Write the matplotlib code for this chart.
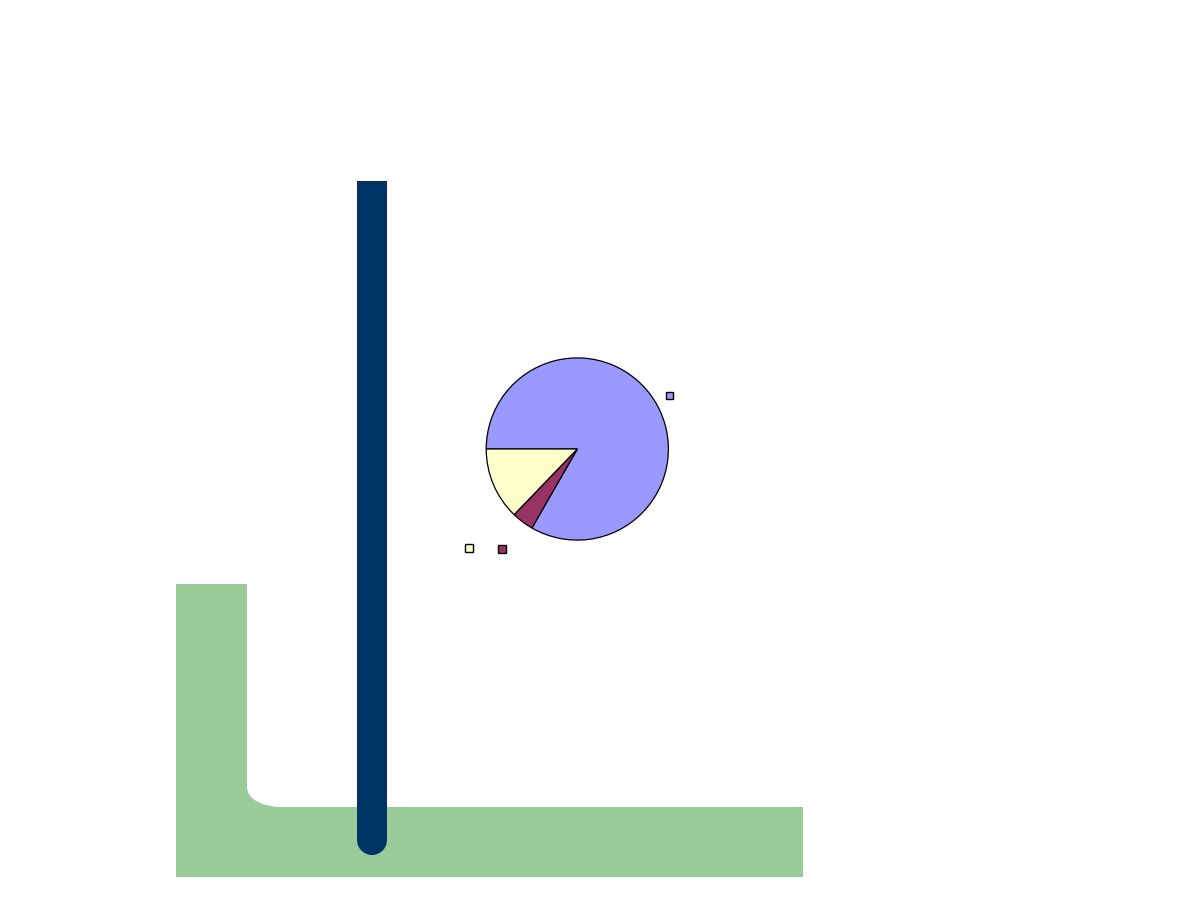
import matplotlib
matplotlib.use("Agg")
import matplotlib.pyplot as plt
from matplotlib.patches import Rectangle, Circle, PathPatch
from matplotlib.path import Path

# pie data (shares, legend has no text)
labels = ["", "", ""]
shares = [83.3, 3.9, 12.8]
colors = ["#9999FF", "#993366", "#FFFFCC"]

# where the three legend keys sit (px, figure coords from top-left)
key_pos = [(669.5, 395.5), (502, 549), (469, 548)]

W, H = 1188, 918
fig = plt.figure(figsize=(W / 100, H / 100), dpi=100)
fig.patch.set_facecolor("white")

# background layer in pixel coordinates
bg = fig.add_axes([0, 0, 1, 1])
bg.set_xlim(0, W)
bg.set_ylim(H, 0)
bg.axis("off")

# green L-shaped band with rounded inner corner
verts = [(176, 584), (247, 584), (247, 787),
         (247, 799), (262, 807), (283, 807),
         (803, 807), (803, 877), (176, 877), (176, 584)]
codes = [Path.MOVETO, Path.LINETO, Path.LINETO,
         Path.CURVE4, Path.CURVE4, Path.CURVE4,
         Path.LINETO, Path.LINETO, Path.LINETO, Path.CLOSEPOLY]
bg.add_patch(PathPatch(Path(verts, codes), facecolor="#99CC99", edgecolor="none", zorder=1))

# navy vertical bar with round bottom
navy = "#003366"
bg.add_patch(Rectangle((357, 181), 30, 660, facecolor=navy, edgecolor="none", zorder=2))
bg.add_patch(Circle((372, 840), 15, facecolor=navy, edgecolor="none", zorder=2))

# legend keys, no text
for (x, y), c in zip(key_pos, colors):
    bg.add_patch(Rectangle((x - 3.6, y - 3.6), 7.2, 7.2, facecolor=c,
                           edgecolor="black", linewidth=1.0, zorder=3))

# pie chart
cx, cy, r = 577.3, 449, 92
pax = fig.add_axes([(cx - r) / W, (H - cy - r) / H, 2 * r / W, 2 * r / H])
pax.pie(shares, labels=labels, colors=colors, startangle=180, counterclock=False,
        wedgeprops=dict(edgecolor="black", linewidth=0.9))
pax.set_xlim(-1.01, 1.01)
pax.set_ylim(-1.01, 1.01)
pax.axis("off")

fig.savefig("out.png", dpi=100)
